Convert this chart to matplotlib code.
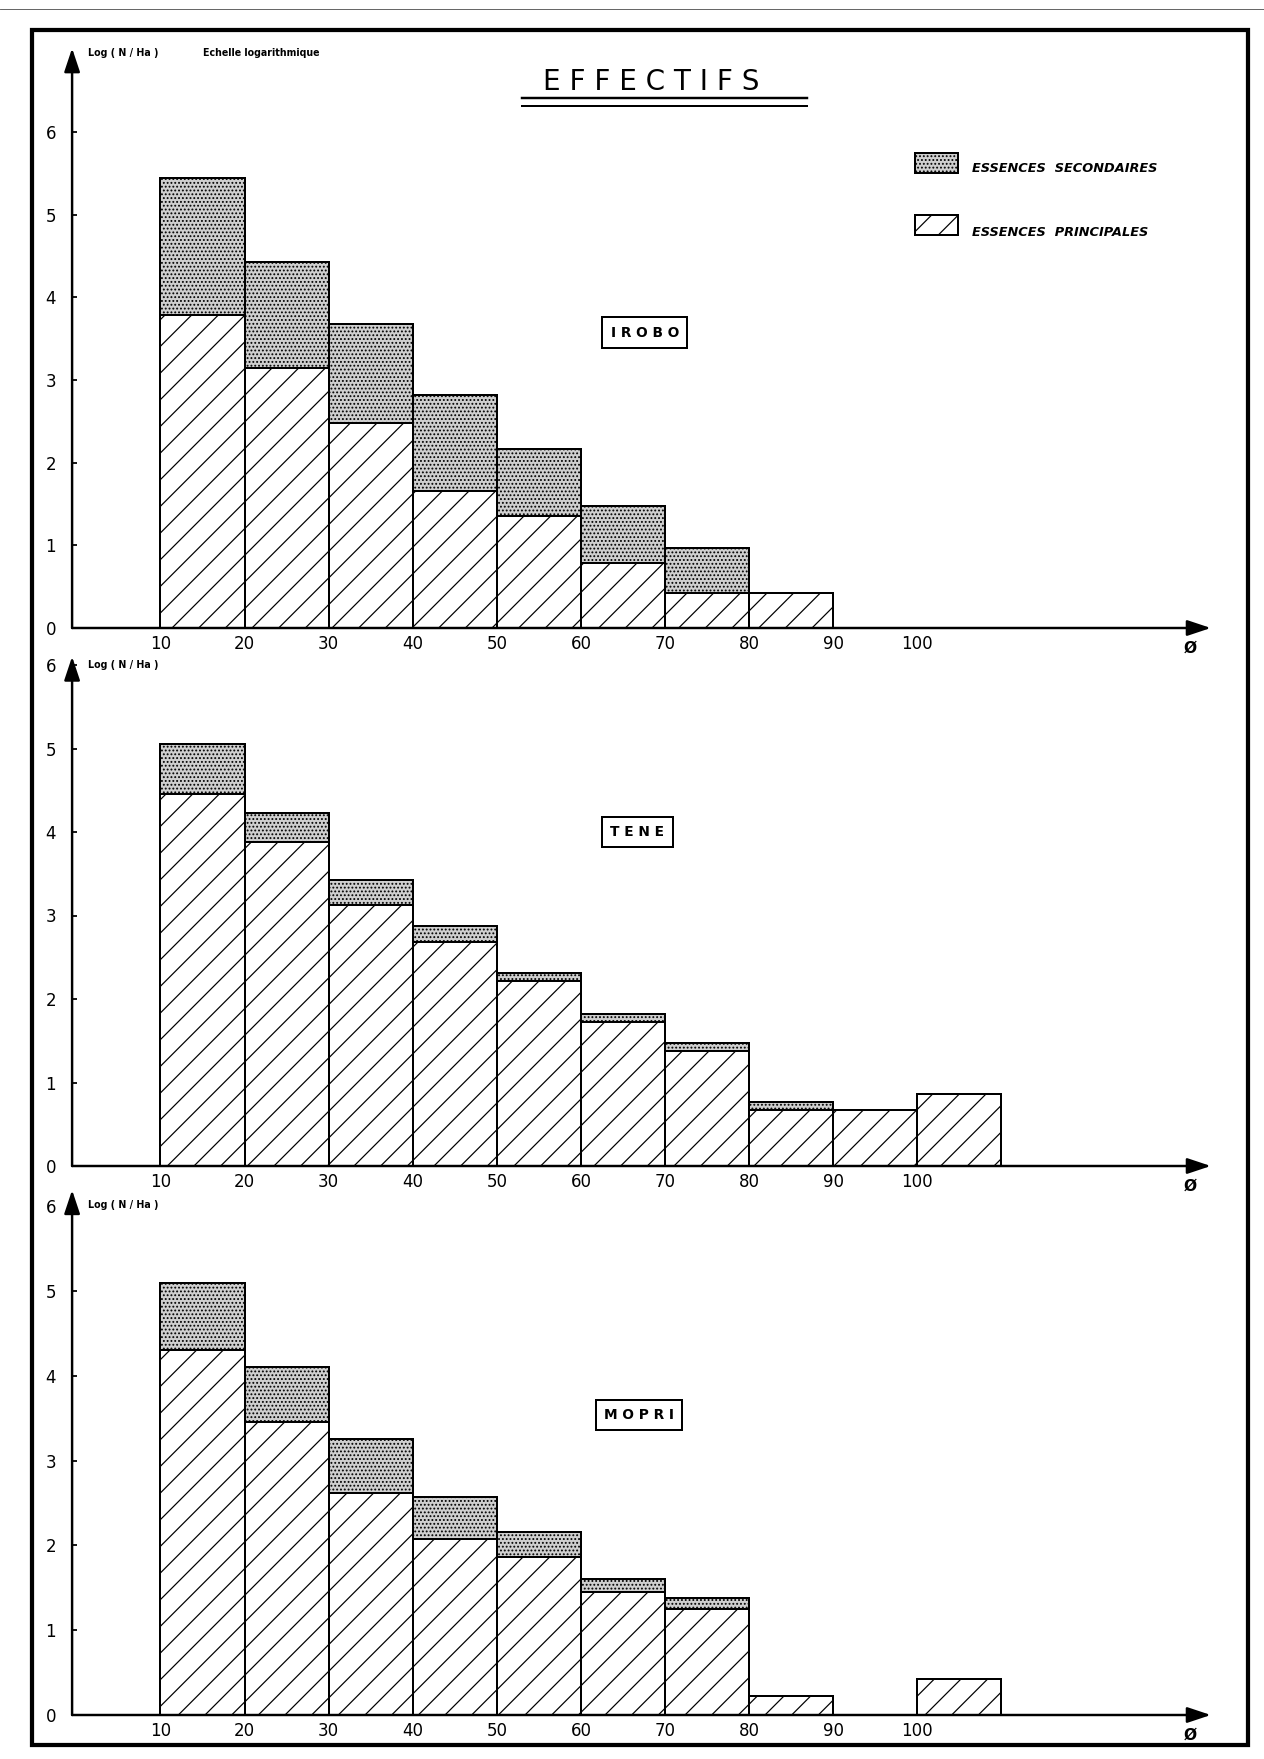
import matplotlib
matplotlib.use('Agg')
import matplotlib.pyplot as plt
from matplotlib.patches import Rectangle
from matplotlib.lines import Line2D

W, H, DPI = 1264, 1759, 160
PT = 72.0 / DPI  # pixels -> points

# diameter classes (left edge of each 10 cm class)
classes = [10, 20, 30, 40, 50, 60, 70, 80, 90, 100]
tick_values = [10, 20, 30, 40, 50, 60, 70, 80, 90, 100]
y_ticks = [0, 1, 2, 3, 4, 5, 6]

# log(N/Ha): top of hatched part and top of whole bar
irobo_principales = [3.78, 3.14, 2.48, 1.66, 1.36, 0.78, 0.42, 0.42, 0, 0]
irobo_total = [5.44, 4.43, 3.68, 2.82, 2.16, 1.47, 0.97, 0.42, 0, 0]

tene_principales = [4.45, 3.88, 3.12, 2.68, 2.21, 1.73, 1.38, 0.67, 0.67, 0.86]
tene_total = [5.05, 4.23, 3.42, 2.87, 2.31, 1.82, 1.47, 0.77, 0.67, 0.86]

mopri_principales = [4.30, 3.46, 2.62, 2.07, 1.86, 1.45, 1.25, 0.22, 0, 0.42]
mopri_total = [5.10, 4.10, 3.26, 2.57, 2.16, 1.60, 1.38, 0.22, 0, 0.42]

# layout in pixels of the original sheet
panels = [
    {'name': 'I R O B O', 'p': irobo_principales, 't': irobo_total,
     'y0': 628, 'unit': 82.7, 'top': 7.01, 'box': (67.6, 3.57),
     'label_y': 53, 'long_label': True},
    {'name': 'T E N E', 'p': tene_principales, 't': tene_total,
     'y0': 1166, 'unit': 83.5, 'top': 6.1, 'box': (66.7, 4.0),
     'label_y': 665, 'long_label': False},
    {'name': 'M O P R I', 'p': mopri_principales, 't': mopri_total,
     'y0': 1715, 'unit': 84.8, 'top': 6.19, 'box': (66.9, 3.54),
     'label_y': 1205, 'long_label': False},
]

X10_PX = 160.4
X_UNIT = 8.41
XMIN, XMAX = -3, 137
X_AXIS_START = -0.5
X_AXIS_END = 134.9

STIPPLE_FC = '#cfcfcf'
STIPPLE = '.......'
HATCH = '//'

plt.rcParams['font.family'] = ['DejaVu Sans']
plt.rcParams['hatch.linewidth'] = 0.55

fig = plt.figure(figsize=(W / DPI, H / DPI), dpi=DPI)
fig.patch.set_facecolor('white')


def fx(px):
    return px / W


def fy(py):
    return 1 - py / H


def draw_panel(cfg):
    left_px = X10_PX + (XMIN - 10) * X_UNIT
    right_px = X10_PX + (XMAX - 10) * X_UNIT
    ylo, yhi = -0.35, cfg['top'] + 0.1
    bot_px = cfg['y0'] - ylo * cfg['unit']
    top_px = cfg['y0'] - yhi * cfg['unit']
    ax = fig.add_axes([fx(left_px), fy(bot_px), (right_px - left_px) / W, (bot_px - top_px) / H])
    ax.set_xlim(XMIN, XMAX)
    ax.set_ylim(ylo, yhi)
    ax.patch.set_alpha(0)

    # principal species (hatched)
    xs, hs = [], []
    for c, p in zip(classes, cfg['p']):
        if p > 0:
            xs.append(c)
            hs.append(p)
    ax.bar(xs, hs, width=10, align='edge', facecolor='white', edgecolor='black',
           hatch=HATCH, linewidth=0.9, zorder=2)

    # secondary species (stippled) stacked on top
    xs, hs, bs = [], [], []
    for c, p, t in zip(classes, cfg['p'], cfg['t']):
        if t - p > 0:
            xs.append(c)
            hs.append(t - p)
            bs.append(p)
    ax.bar(xs, hs, bottom=bs, width=10, align='edge', facecolor=STIPPLE_FC, edgecolor='black',
           hatch=STIPPLE, linewidth=0.9, zorder=2)

    for s in ax.spines.values():
        s.set_visible(False)
    ax.spines['left'].set_position(('data', X_AXIS_START))
    ax.spines['bottom'].set_position(('data', 0))

    arrow = dict(arrowstyle='-|>,head_length=0.9,head_width=0.3', color='black',
                 lw=1.1, mutation_scale=10, shrinkA=0, shrinkB=0)
    ax.annotate('', xy=(X_AXIS_END, 0), xytext=(X_AXIS_START, 0), arrowprops=arrow, zorder=3)
    ax.annotate('', xy=(X_AXIS_START, cfg['top']), xytext=(X_AXIS_START, 0), arrowprops=arrow, zorder=3)

    ax.set_xticks(tick_values)
    ax.set_xticklabels([str(v) for v in tick_values])
    ax.tick_params(axis='x', length=0, pad=7 * PT, labelsize=7.5)
    ax.set_yticks(y_ticks)
    ax.set_yticklabels([str(v) for v in y_ticks])
    ax.tick_params(axis='y', direction='in', length=2.2, width=0.8, pad=16 * PT, labelsize=7.5)

    ax.text(X_AXIS_END - 2.5, -0.24, 'Ø', ha='center', va='center', fontsize=7, fontweight='bold')

    bx, by = cfg['box']
    ax.text(bx, by, cfg['name'], ha='center', va='center', fontsize=6.2, fontweight='bold',
            bbox=dict(boxstyle='square,pad=0.6', facecolor='white', edgecolor='black', linewidth=0.9),
            zorder=4)

    fig.text(fx(88), fy(cfg['label_y']), 'Log ( N / Ha )', ha='left', va='center',
             fontsize=4.3, fontweight='bold')
    if cfg['long_label']:
        fig.text(fx(203), fy(cfg['label_y']), 'Echelle logarithmique', ha='left', va='center',
                 fontsize=4.3, fontweight='bold')
    return ax


for cfg in panels:
    draw_panel(cfg)

# title with double underline
fig.text(fx(651), fy(82), 'E F F E C T I F S', ha='center', va='center', fontsize=12.5)
fig.add_artist(Line2D([fx(522), fx(807)], [fy(98), fy(98)], color='black', lw=1.1))
fig.add_artist(Line2D([fx(522), fx(807)], [fy(106), fy(106)], color='black', lw=0.9))

# legend
fig.add_artist(Rectangle((fx(915), fy(173)), fx(958) - fx(915), fy(153) - fy(173),
                         transform=fig.transFigure, facecolor=STIPPLE_FC, edgecolor='black',
                         hatch=STIPPLE, linewidth=0.9))
fig.add_artist(Rectangle((fx(915), fy(235)), fx(958) - fx(915), fy(215) - fy(235),
                         transform=fig.transFigure, facecolor='white', edgecolor='black',
                         hatch=HATCH, linewidth=0.9))
fig.text(fx(972), fy(169), 'ESSENCES  SECONDAIRES', ha='left', va='center',
         fontsize=5.8, fontweight='bold', fontstyle='italic')
fig.text(fx(972), fy(232), 'ESSENCES  PRINCIPALES', ha='left', va='center',
         fontsize=5.8, fontweight='bold', fontstyle='italic')

# sheet frame
fig.add_artist(Rectangle((fx(32), fy(1745)), fx(1248) - fx(32), fy(30) - fy(1745),
                         transform=fig.transFigure, fill=False, edgecolor='black', linewidth=1.9))
fig.add_artist(Line2D([0, 1], [fy(9), fy(9)], color='#555555', lw=0.4))

fig.savefig('out.png', dpi=DPI, facecolor='white')
